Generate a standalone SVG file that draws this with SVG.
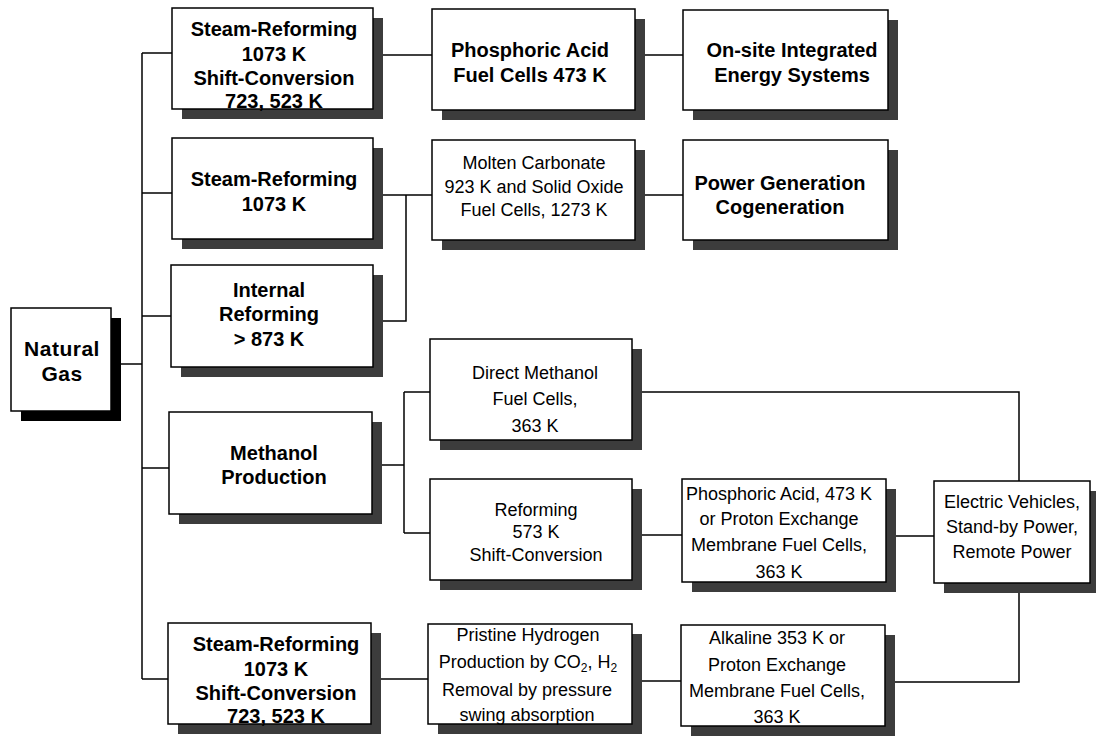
<svg xmlns="http://www.w3.org/2000/svg" width="1096" height="736" viewBox="0 0 1096 736">
  <style>
    .box { fill: #ffffff; stroke: #000000; stroke-width: 1.5; }
    .shadow { fill: #3c3c3c; }
    .shadow.solid { fill: #000000; }
    .link { fill: none; stroke: #000000; stroke-width: 1.5; }
    text { font-family: "Liberation Sans", Arial, sans-serif; fill: #000000; text-anchor: middle; }
    .b { font-size: 20px; font-weight: bold; }
    .r { font-size: 18px; }
    .ng { font-size: 21px; font-weight: bold; letter-spacing: 0.5px; }
  </style>
  <rect width="1096" height="736" fill="#ffffff"/>

  <!-- connecting lines, drawn beneath the boxes -->
  <g id="connectors" class="link">
    <path d="M121 364 H142"/>
    <path d="M142 53 V679"/>
    <path d="M142 53 H172"/>
    <path d="M142 193 H172"/>
    <path d="M142 316 H171"/>
    <path d="M142 468 H169"/>
    <path d="M142 679 H168"/>
    <path d="M373 55 H432"/>
    <path d="M635 55 H683"/>
    <path d="M373 195 H432"/>
    <path d="M406 195 V321 H373"/>
    <path d="M635 195 H683"/>
    <path d="M372 465 H404"/>
    <path d="M404 392 V533"/>
    <path d="M404 392 H430"/>
    <path d="M404 533 H430"/>
    <path d="M632 392 H1019 V481"/>
    <path d="M632 535 H682"/>
    <path d="M886 536 H934"/>
    <path d="M1019 583 V682 H885"/>
    <path d="M371 679 H428"/>
    <path d="M632 681 H681"/>
  </g>

  <g id="natural-gas">
    <rect class="shadow solid" x="21" y="318" width="100" height="103"/>
    <rect class="box" x="11" y="308" width="100" height="103"/>
    <text class="ng" x="62" y="356">Natural</text>
    <text class="ng" x="62" y="381">Gas</text>
  </g>

  <g id="steam-reforming-shift-1">
    <rect class="shadow" x="182" y="18" width="201" height="101"/>
    <rect class="box" x="172" y="8" width="201" height="101"/>
    <text class="b" x="274" y="36">Steam-Reforming</text>
    <text class="b" x="274" y="61">1073 K</text>
    <text class="b" x="274" y="85">Shift-Conversion</text>
    <text class="b" x="274" y="108">723, 523 K</text>
  </g>

  <g id="phosphoric-acid-fc">
    <rect class="shadow" x="442" y="19" width="203" height="101"/>
    <rect class="box" x="432" y="9" width="203" height="101"/>
    <text class="b" x="530" y="57">Phosphoric Acid</text>
    <text class="b" x="530" y="82">Fuel Cells 473 K</text>
  </g>

  <g id="onsite-energy">
    <rect class="shadow" x="693" y="20" width="205" height="100"/>
    <rect class="box" x="683" y="10" width="205" height="100"/>
    <text class="b" x="792" y="57">On-site Integrated</text>
    <text class="b" x="792" y="82">Energy Systems</text>
  </g>

  <g id="steam-reforming-2">
    <rect class="shadow" x="182" y="148" width="201" height="101"/>
    <rect class="box" x="172" y="138" width="201" height="101"/>
    <text class="b" x="274" y="186">Steam-Reforming</text>
    <text class="b" x="274" y="211">1073 K</text>
  </g>

  <g id="molten-solid-oxide-fc">
    <rect class="shadow" x="442" y="150" width="203" height="100"/>
    <rect class="box" x="432" y="140" width="203" height="100"/>
    <text class="r" x="534" y="169">Molten Carbonate</text>
    <text class="r" x="534" y="193">923 K and Solid Oxide</text>
    <text class="r" x="534" y="216">Fuel Cells, 1273 K</text>
  </g>

  <g id="power-generation">
    <rect class="shadow" x="693" y="150" width="205" height="100"/>
    <rect class="box" x="683" y="140" width="205" height="100"/>
    <text class="b" x="780" y="190">Power Generation</text>
    <text class="b" x="780" y="214">Cogeneration</text>
  </g>

  <g id="internal-reforming">
    <rect class="shadow" x="181" y="275" width="202" height="102"/>
    <rect class="box" x="171" y="265" width="202" height="102"/>
    <text class="b" x="269" y="297">Internal</text>
    <text class="b" x="269" y="321">Reforming</text>
    <text class="b" x="269" y="346">&gt; 873 K</text>
  </g>

  <g id="methanol-production">
    <rect class="shadow" x="179" y="422" width="203" height="102"/>
    <rect class="box" x="169" y="412" width="203" height="102"/>
    <text class="b" x="274" y="460">Methanol</text>
    <text class="b" x="274" y="484">Production</text>
  </g>

  <g id="direct-methanol-fc">
    <rect class="shadow" x="440" y="349" width="202" height="101"/>
    <rect class="box" x="430" y="339" width="202" height="101"/>
    <text class="r" x="535" y="379">Direct  Methanol</text>
    <text class="r" x="535" y="405">Fuel Cells,</text>
    <text class="r" x="535" y="432">363 K</text>
  </g>

  <g id="reforming-573">
    <rect class="shadow" x="440" y="489" width="202" height="101"/>
    <rect class="box" x="430" y="479" width="202" height="101"/>
    <text class="r" x="536" y="516">Reforming</text>
    <text class="r" x="536" y="538">573 K</text>
    <text class="r" x="536" y="561">Shift-Conversion</text>
  </g>

  <g id="phosphoric-pem-fc">
    <rect class="shadow" x="692" y="489" width="204" height="103"/>
    <rect class="box" x="682" y="479" width="204" height="103"/>
    <text class="r" x="779" y="500">Phosphoric Acid, 473 K</text>
    <text class="r" x="779" y="525">or Proton Exchange</text>
    <text class="r" x="779" y="551">Membrane  Fuel Cells,</text>
    <text class="r" x="779" y="578">363 K</text>
  </g>

  <g id="electric-vehicles">
    <rect class="shadow" x="944" y="491" width="156" height="102"/>
    <rect class="box" x="934" y="481" width="156" height="102"/>
    <text class="r" x="1012" y="508">Electric Vehicles,</text>
    <text class="r" x="1012" y="533">Stand-by Power,</text>
    <text class="r" x="1012" y="558">Remote Power</text>
  </g>

  <g id="steam-reforming-shift-2">
    <rect class="shadow" x="178" y="633" width="203" height="101"/>
    <rect class="box" x="168" y="623" width="203" height="101"/>
    <text class="b" x="276" y="651">Steam-Reforming</text>
    <text class="b" x="276" y="676">1073 K</text>
    <text class="b" x="276" y="700">Shift-Conversion</text>
    <text class="b" x="276" y="723">723, 523 K</text>
  </g>

  <g id="pristine-hydrogen">
    <rect class="shadow" x="438" y="634" width="204" height="100"/>
    <rect class="box" x="428" y="624" width="204" height="100"/>
    <text class="r" x="528" y="641">Pristine Hydrogen</text>
    <text class="r" x="528" y="668">Production by CO<tspan font-size="12" dy="4">2</tspan><tspan dy="-4">, H</tspan><tspan font-size="12" dy="4">2</tspan></text>
    <text class="r" x="527" y="696">Removal by pressure</text>
    <text class="r" x="527" y="721">swing absorption</text>
  </g>

  <g id="alkaline-pem-fc">
    <rect class="shadow" x="691" y="635" width="204" height="101"/>
    <rect class="box" x="681" y="625" width="204" height="101"/>
    <text class="r" x="777" y="644">Alkaline 353 K or</text>
    <text class="r" x="777" y="671">Proton Exchange</text>
    <text class="r" x="777" y="697">Membrane Fuel Cells,</text>
    <text class="r" x="777" y="723">363 K</text>
  </g>
</svg>
